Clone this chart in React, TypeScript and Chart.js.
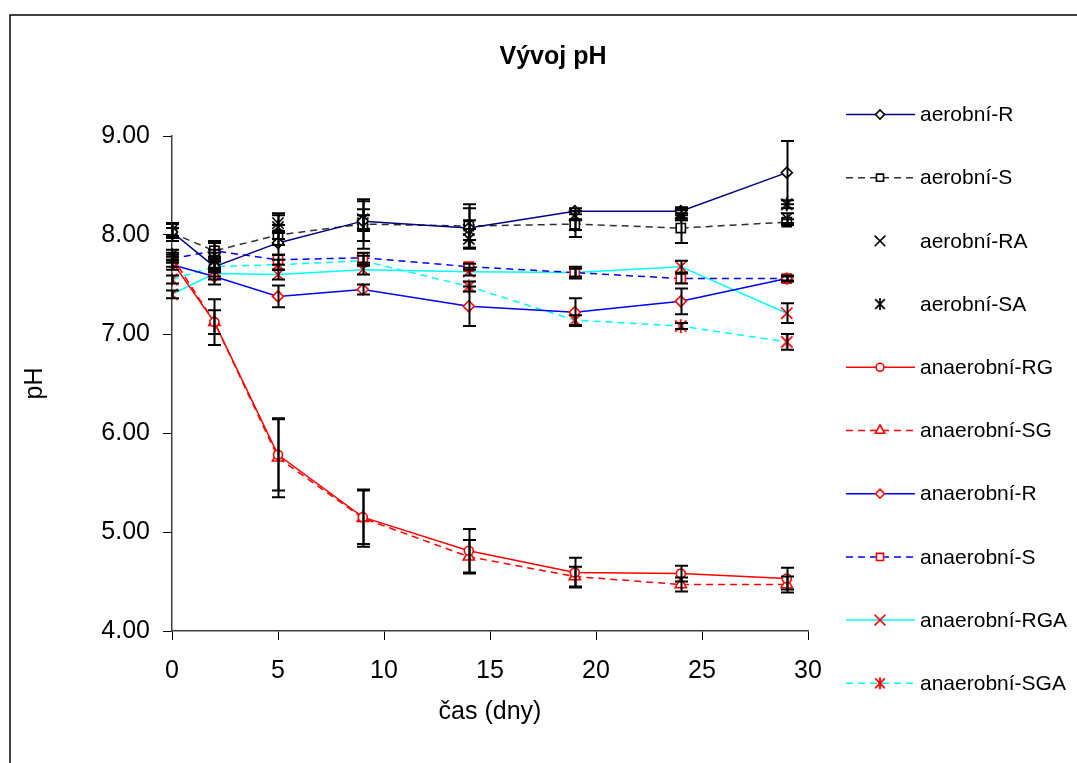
import React, { useEffect, useRef } from 'react';
import { Chart, registerables } from 'chart.js';
import { drawPoint } from 'chart.js/helpers';

Chart.register(...registerables);

const FONT = '"Liberation Sans", Arial, Helvetica, sans-serif';

const titleText = 'Vývoj pH';
const xTitle = 'čas (dny)';
const yTitle = 'pH';

const days = [0, 2, 5, 9, 14, 19, 24, 29];
const xTicks = [0, 5, 10, 15, 20, 25, 30];
const yTicks = [4, 5, 6, 7, 8, 9];

const seriesLabels = [
  'aerobní-R',
  'aerobní-S',
  'aerobní-RA',
  'aerobní-SA',
  'anaerobní-RG',
  'anaerobní-SG',
  'anaerobní-R',
  'anaerobní-S',
  'anaerobní-RGA',
  'anaerobní-SGA',
];

const aerobR = [8.03, 7.68, 7.92, 8.14, 8.07, 8.24, 8.24, 8.63];
const aerobRErr = [0.09, 0.1, 0.12, 0.2, 0.2, 0.03, 0.04, 0.32];
const aerobS = [8.02, 7.84, 8.0, 8.11, 8.09, 8.11, 8.07, 8.13];
const aerobSErr = [0.05, 0.08, 0.1, 0.25, 0.22, 0.13, 0.15, 0.03];
const aerobRA = [8.05, 7.72, 8.12, 8.16, 8.05, 8.2, 8.22, 8.17];
const aerobRAErr = [0.06, 0.1, 0.1, 0.1, 0.1, 0.04, 0.05, 0.05];
const aerobSA = [7.8, 7.75, 8.08, 8.12, 7.96, 8.1, 8.2, 8.31];
const aerobSAErr = [0.05, 0.1, 0.12, 0.08, 0.1, 0.05, 0.05, 0.04];

const anaerRG = [7.73, 7.12, 5.78, 5.15, 4.81, 4.59, 4.58, 4.53];
const anaerRGErr = [0.05, 0.23, 0.36, 0.27, 0.22, 0.15, 0.08, 0.11];
const anaerSG = [7.78, 7.12, 5.75, 5.14, 4.75, 4.55, 4.47, 4.47];
const anaerSGErr = [0.04, 0.12, 0.4, 0.29, 0.17, 0.1, 0.07, 0.08];
const anaerR = [7.7, 7.58, 7.38, 7.45, 7.28, 7.22, 7.33, 7.56];
const anaerRErr = [0.05, 0.08, 0.11, 0.05, 0.2, 0.14, 0.13, 0.03];
const anaerS = [7.76, 7.84, 7.75, 7.77, 7.68, 7.62, 7.56, 7.56];
const anaerSErr = [0.04, 0.1, 0.05, 0.05, 0.03, 0.06, 0.05, 0.02];
const anaerRGA = [7.4, 7.61, 7.6, 7.65, 7.63, 7.62, 7.68, 7.21];
const anaerRGAErr = [0.04, 0.06, 0.05, 0.05, 0.04, 0.04, 0.06, 0.1];
const anaerSGA = [7.55, 7.68, 7.7, 7.74, 7.48, 7.14, 7.08, 6.92];
const anaerSGAErr = [0.04, 0.05, 0.05, 0.05, 0.05, 0.05, 0.03, 0.08];

const seriesValues = [aerobR, aerobS, aerobRA, aerobSA, anaerRG, anaerSG, anaerR, anaerS, anaerRGA, anaerSGA];
const seriesErrors = [aerobRErr, aerobSErr, aerobRAErr, aerobSAErr, anaerRGErr, anaerSGErr, anaerRErr, anaerSErr, anaerRGAErr, anaerSGAErr];

type Style = { line: string | null; dash: number[]; point: string; r: number; lr: number; pc: string };
const seriesStyles: Style[] = [
  { line: '#000080', dash: [], point: 'rectRot', r: 5.5, lr: 4.5, pc: '#000000' },
  { line: '#303030', dash: [7, 5], point: 'rect', r: 6.5, lr: 5, pc: '#000000' },
  { line: null, dash: [], point: 'crossRot', r: 8, lr: 7.5, pc: '#000000' },
  { line: null, dash: [], point: 'asterisk', r: 7, lr: 6, pc: '#000000' },
  { line: '#ff0000', dash: [], point: 'circle', r: 4.5, lr: 4, pc: '#ff0000' },
  { line: '#ff0000', dash: [7, 5], point: 'triangle', r: 6.5, lr: 5.5, pc: '#ff0000' },
  { line: '#0000ff', dash: [], point: 'rectRot', r: 5.5, lr: 4.5, pc: '#ff0000' },
  { line: '#0000ff', dash: [7, 5], point: 'rect', r: 6.5, lr: 5, pc: '#ff0000' },
  { line: '#00ffff', dash: [], point: 'crossRot', r: 8, lr: 7.5, pc: '#ff0000' },
  { line: '#00ffff', dash: [7, 5], point: 'asterisk', r: 7, lr: 6, pc: '#ff0000' },
];

function makeAsterisk(color: string, half: number) {
  const s = Math.ceil(half * 2 + 4);
  const c = document.createElement('canvas');
  c.width = s;
  c.height = s;
  const g = c.getContext('2d')!;
  const m = s / 2;
  g.strokeStyle = color;
  g.lineWidth = 1.8;
  g.beginPath();
  g.moveTo(m - half * 0.8, m - half * 0.8);
  g.lineTo(m + half * 0.8, m + half * 0.8);
  g.moveTo(m + half * 0.8, m - half * 0.8);
  g.lineTo(m - half * 0.8, m + half * 0.8);
  g.moveTo(m, m - half);
  g.lineTo(m, m + half);
  g.stroke();
  return c;
}

const errorBarsPlugin = {
  id: 'errorBars',
  afterDatasetsDraw(chart: any) {
    const { ctx, scales } = chart;
    const xs = scales.x;
    const ys = scales.y;
    ctx.save();
    ctx.strokeStyle = '#000000';
    ctx.lineWidth = 2;
    chart.data.datasets.forEach((ds: any) => {
      ds.data.forEach((p: any, i: number) => {
        const e = ds.errors[i];
        if (!e) return;
        const px = Math.round(xs.getPixelForValue(p.x)) + 0.5;
        const top = ys.getPixelForValue(p.y + e);
        const bot = ys.getPixelForValue(p.y - e);
        ctx.beginPath();
        ctx.moveTo(px, top);
        ctx.lineTo(px, bot);
        ctx.moveTo(px - 6.5, top);
        ctx.lineTo(px + 6.5, top);
        ctx.moveTo(px - 6.5, bot);
        ctx.lineTo(px + 6.5, bot);
        ctx.stroke();
      });
    });
    ctx.restore();
  },
};

const decorPlugin = {
  id: 'decor',
  beforeDraw(chart: any) {
    const { ctx } = chart;
    ctx.save();
    ctx.strokeStyle = '#000000';
    ctx.lineWidth = 1.5;
    ctx.strokeRect(10, 15, 2000, 2000);
    ctx.restore();
  },
  afterDraw(chart: any) {
    const { ctx, chartArea } = chart;
    ctx.save();
    ctx.fillStyle = '#000000';
    ctx.textAlign = 'center';
    ctx.textBaseline = 'middle';
    ctx.font = `bold 25px ${FONT}`;
    ctx.fillText(titleText, 553, 57);
    ctx.font = `25px ${FONT}`;
    ctx.fillText(xTitle, (chartArea.left + chartArea.right) / 2, 712);
    ctx.save();
    ctx.translate(35, (chartArea.top + chartArea.bottom) / 2);
    ctx.rotate(-Math.PI / 2);
    ctx.fillText(yTitle, 0, 0);
    ctx.restore();

    // legend
    ctx.font = `21px ${FONT}`;
    ctx.textAlign = 'left';
    chart.data.datasets.forEach((ds: any, i: number) => {
      const st: Style = ds.styleDef;
      const yc = 114.5 + i * 63.2;
      if (st.line) {
        ctx.save();
        ctx.strokeStyle = st.line;
        ctx.lineWidth = 1.5;
        ctx.setLineDash(st.dash);
        ctx.beginPath();
        ctx.moveTo(846, yc);
        ctx.lineTo(915, yc);
        ctx.stroke();
        ctx.restore();
      }
      ctx.save();
      ctx.strokeStyle = st.pc;
      ctx.fillStyle = '#ffffff';
      ctx.lineWidth = 1.6;
      ctx.setLineDash([]);
      const ps = st.point === 'asterisk' ? makeAsterisk(st.pc, st.lr) : st.point;
      drawPoint(ctx, { pointStyle: ps, rotation: 0, radius: st.lr, borderWidth: 1.6 } as any, 880, yc);
      ctx.restore();
      ctx.fillStyle = '#000000';
      ctx.fillText(ds.label, 920, yc + 1);
    });
    ctx.restore();
  },
};

export default function App() {
  const ref = useRef<HTMLCanvasElement | null>(null);

  useEffect(() => {
    if (!ref.current) return;
    const datasets = seriesLabels.map((label, k) => {
      const st = seriesStyles[k];
      const ps = st.point === 'asterisk' ? makeAsterisk(st.pc, st.r) : st.point;
      return {
        label,
        data: days.map((d, i) => ({ x: d, y: seriesValues[k][i] })),
        errors: seriesErrors[k],
        styleDef: st,
        showLine: !!st.line,
        borderColor: st.line || '#000000',
        borderWidth: 1.5,
        borderDash: st.dash,
        pointStyle: ps,
        pointRadius: st.r,
        pointBorderColor: st.pc,
        pointBackgroundColor: '#ffffff',
        pointBorderWidth: 1.6,
        fill: false,
        tension: 0,
      };
    });

    const chart = new Chart(ref.current, {
      type: 'line',
      data: { datasets } as any,
      options: {
        animation: false,
        responsive: false,
        maintainAspectRatio: false,
        devicePixelRatio: 1,
        layout: { padding: { left: 0, top: 136, right: 269, bottom: 0 } },
        plugins: {
          legend: { display: false },
          title: { display: false },
          tooltip: { enabled: false },
        },
        scales: {
          x: {
            type: 'linear',
            min: 0,
            max: 30,
            afterBuildTicks: (s: any) => {
              s.ticks = xTicks.map((v) => ({ value: v }));
            },
            afterFit: (s: any) => {
              s.height = 132;
            },
            ticks: {
              color: '#000000',
              font: { family: FONT, size: 25 },
              padding: 16,
              maxRotation: 0,
              autoSkip: false,
            },
            grid: { display: true, drawOnChartArea: false, drawTicks: true, tickLength: 9, color: '#000000', tickColor: '#000000' },
            border: { display: true, color: '#404040', width: 1.5 },
          },
          y: {
            type: 'linear',
            min: 4,
            max: 9,
            afterBuildTicks: (s: any) => {
              s.ticks = yTicks.map((v) => ({ value: v }));
            },
            afterFit: (s: any) => {
              s.width = 172;
            },
            ticks: {
              color: '#000000',
              font: { family: FONT, size: 25 },
              padding: 13,
              callback: (v: any) => Number(v).toFixed(2),
            },
            grid: { display: true, drawOnChartArea: false, drawTicks: true, tickLength: 9, color: '#000000', tickColor: '#000000' },
            border: { display: true, color: '#404040', width: 1.5 },
          },
        },
      } as any,
      plugins: [errorBarsPlugin, decorPlugin],
    });
    return () => chart.destroy();
  }, []);

  return (
    <canvas
      ref={ref}
      width={1077}
      height={763}
      style={{ position: 'fixed', left: 0, top: 0, width: 1077, height: 763 }}
    />
  );
}
